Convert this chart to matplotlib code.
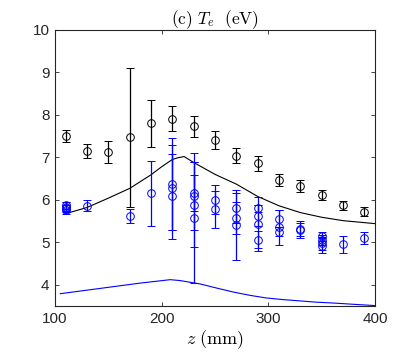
import matplotlib
matplotlib.use("Agg")
import matplotlib.pyplot as plt

plt.rcParams['font.family'] = ['Liberation Sans', 'DejaVu Sans']
plt.rcParams['mathtext.fontset'] = 'cm'

# measured T_e, black set
black_z = [110, 130, 150, 170, 190, 210, 230, 250, 270, 290, 310, 330, 350, 370, 390]
black_te = [7.51, 7.15, 7.12, 7.47, 7.80, 7.91, 7.73, 7.40, 7.04, 6.86, 6.47, 6.33, 6.11, 5.87, 5.72]
black_err = [0.14, 0.17, 0.26, 1.63, 0.56, 0.29, 0.25, 0.21, 0.18, 0.17, 0.15, 0.14, 0.12, 0.10, 0.11]

# measured T_e, blue set
blue_z = [110, 110, 110, 110, 130, 170, 190,
          210, 210, 210, 230, 230, 230, 230,
          250, 250, 270, 270, 270,
          290, 290, 290, 290, 310, 310, 310,
          330, 330, 350, 350, 350, 350, 370, 390]
blue_te = [5.77, 5.80, 5.84, 5.87, 5.86, 5.62, 6.15,
           6.37, 6.29, 6.08, 6.16, 6.08, 5.88, 5.58,
           6.00, 5.78, 5.80, 5.57, 5.41,
           5.80, 5.63, 5.43, 5.06, 5.55, 5.35, 5.25,
           5.32, 5.28, 5.14, 5.06, 4.98, 4.92, 4.96, 5.11]
blue_err = [0.10, 0.09, 0.10, 0.09, 0.13, 0.17, 0.76,
            1.08, 1.00, 1.00, 0.43, 0.80, 1.00, 1.53,
            0.34, 0.44, 0.35, 0.38, 0.83,
            0.08, 0.25, 0.64, 0.20, 0.20, 0.41, 0.10,
            0.18, 0.18, 0.10, 0.12, 0.15, 0.17, 0.20, 0.14]

# model curves
model_z_black = [108, 130, 150, 170, 190, 200, 210, 215, 221, 230, 250, 270, 290, 310, 330, 350, 370, 400]
model_black = [5.66, 5.82, 6.04, 6.27, 6.59, 6.78, 6.95, 6.99, 7.02, 6.88, 6.60, 6.37, 6.08, 5.86, 5.70, 5.59, 5.51, 5.44]
model_z_blue = [105, 150, 180, 208, 217, 236, 252, 267, 283, 298, 314, 330, 345, 361, 380, 400]
model_blue = [3.79, 3.94, 4.04, 4.12, 4.10, 4.02, 3.92, 3.83, 3.75, 3.69, 3.65, 3.62, 3.59, 3.57, 3.54, 3.51]

fig = plt.figure(figsize=(4.14, 3.63), dpi=100)
ax = fig.add_axes([0.1329, 0.157, 0.7729, 0.7604])

# model lines
ax.plot(model_z_black, model_black, color='k', lw=0.8)
ax.plot(model_z_blue, model_blue, color=(0, 0, 1), lw=0.8)

# data with error bars
ax.errorbar(black_z, black_te, yerr=black_err, fmt='o', color='k', mfc='none',
            ms=5.5, mew=0.7, elinewidth=0.9, capsize=3, capthick=0.9)
ax.errorbar(blue_z, blue_te, yerr=blue_err, fmt='o', color=(0, 0, 1), mfc='none',
            ms=5.5, mew=0.7, elinewidth=0.9, capsize=3, capthick=0.9)

ax.set_xlim(100, 400)
ax.set_ylim(3.5, 10)
ax.set_xticks([100, 200, 300, 400])
ax.set_yticks([4, 5, 6, 7, 8, 9, 10])
ax.tick_params(direction='in', top=True, right=True, labelsize=11, length=3,
               width=0.6, colors='#262626', pad=4)
for s in ax.spines.values():
    s.set_linewidth(0.8)
    s.set_color('#262626')

ax.set_title(r'$\mathrm{(c)}\ T_e\ \ \mathrm{(eV)}$', fontsize=12.5, pad=4)
ax.set_xlabel(r'$z\ \mathrm{(mm)}$', fontsize=13, labelpad=2)

fig.savefig('out.png', dpi=100)
